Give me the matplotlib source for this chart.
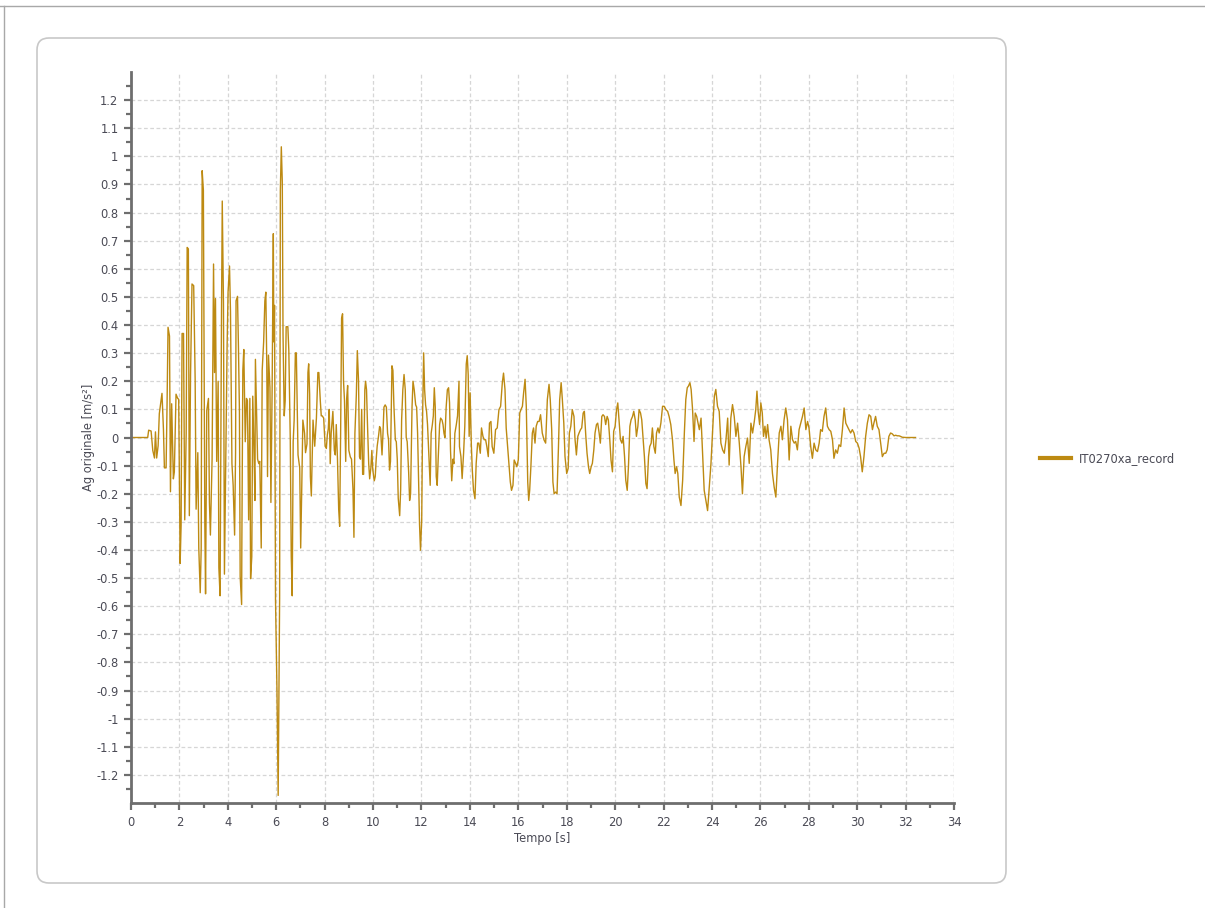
import matplotlib.pyplot as plt
import numpy as np
from matplotlib.patches import FancyBboxPatch
from matplotlib.lines import Line2D

# accelerogram (peaks / troughs)
tempo = [0, 0.69, 0.73, 0.83, 0.90, 0.97, 1.01, 1.06, 1.12, 1.17, 1.28, 1.34, 1.38, 1.45, 1.49, 1.53,
         1.59, 1.63, 1.68, 1.75, 1.79, 1.86, 1.93, 1.97, 2.03, 2.07, 2.11, 2.17, 2.22, 2.28, 2.32,
         2.37, 2.41, 2.46, 2.52, 2.59, 2.65, 2.69, 2.76, 2.80, 2.86, 2.90, 2.94, 2.99, 3.05, 3.08,
         3.13, 3.20, 3.24, 3.28, 3.35, 3.41, 3.45, 3.49, 3.54, 3.60, 3.63, 3.68, 3.74, 3.77, 3.82,
         3.86, 3.93, 3.97, 4.01, 4.07, 4.11, 4.17, 4.22, 4.28, 4.32, 4.34, 4.40, 4.44, 4.48, 4.51,
         4.57, 4.58, 4.62, 4.66, 4.72, 4.77, 4.81, 4.86, 4.91, 4.94, 4.99, 5.03, 5.08, 5.12, 5.14,
         5.19, 5.23, 5.28, 5.32, 5.38, 5.42, 5.48, 5.53, 5.57, 5.61, 5.64, 5.68, 5.74, 5.78, 5.83,
         5.88, 5.90, 5.93, 5.97, 6.03, 6.08, 6.14, 6.17, 6.21, 6.25, 6.28, 6.33, 6.37, 6.41, 6.48,
         6.52, 6.58, 6.62, 6.66, 6.70, 6.74, 6.79, 6.83, 6.90, 6.97, 7.01, 7.05, 7.10, 7.17, 7.21,
         7.27, 7.31, 7.34, 7.38, 7.41, 7.45, 7.52, 7.59, 7.66, 7.72,
         7.76, 7.82, 7.86, 7.90, 7.96, 8.02, 8.07, 8.11, 8.15, 8.19, 8.23, 8.27, 8.34, 8.40, 8.44,
         8.48, 8.53, 8.58, 8.62, 8.66, 8.70, 8.74, 8.78, 8.82, 8.87, 8.91, 8.95, 9.00, 9.06, 9.11,
         9.17, 9.21, 9.25, 9.31, 9.35, 9.40, 9.44, 9.48, 9.53, 9.57, 9.61, 9.66, 9.69, 9.73, 9.77,
         9.82, 9.86, 9.91, 9.95, 9.99, 10.05, 10.09, 10.13, 10.17, 10.23, 10.27, 10.31, 10.37, 10.41,
         10.45, 10.50, 10.55, 10.60, 10.64, 10.68, 10.72, 10.78, 10.82, 10.86, 10.92, 10.96, 11.00,
         11.04, 11.10, 11.14, 11.18, 11.23, 11.28, 11.33, 11.37, 11.41, 11.47, 11.51, 11.55, 11.61,
         11.65, 11.70, 11.76, 11.80, 11.84, 11.88, 11.92, 11.96, 12.01, 12.05, 12.09, 12.13, 12.17,
         12.21, 12.25, 12.31, 12.36, 12.40, 12.45, 12.49, 12.53, 12.57, 12.61, 12.65, 12.69, 12.75,
         12.79, 12.85, 12.89, 12.93, 12.97, 13.02, 13.07, 13.12, 13.16, 13.20, 13.25, 13.30, 13.34,
         13.38, 13.44, 13.49, 13.55,
         13.57, 13.63, 13.68, 13.74, 13.79, 13.85, 13.89, 13.93, 13.97, 14.01, 14.06, 14.10, 14.15,
         14.21, 14.26, 14.32, 14.37, 14.43, 14.48, 14.54, 14.59, 14.65, 14.70, 14.76, 14.81, 14.87,
         14.92, 14.99, 15.06, 15.13, 15.20, 15.27, 15.34, 15.39, 15.45, 15.50, 15.56, 15.61, 15.67,
         15.72, 15.78, 15.83, 15.89, 15.94, 16.00, 16.06, 16.11, 16.17, 16.22, 16.28, 16.33, 16.39,
         16.43, 16.47, 16.52, 16.58, 16.63, 16.69, 16.74, 16.80, 16.86, 16.92, 16.99, 17.06, 17.13,
         17.20, 17.27, 17.32, 17.38, 17.43, 17.48, 17.54, 17.60, 17.66, 17.71, 17.77, 17.82, 17.88,
         17.93, 18.00, 18.06, 18.11, 18.17, 18.23, 18.30, 18.34, 18.40, 18.46, 18.51, 18.57, 18.62,
         18.68, 18.73, 18.79, 18.84, 18.90, 18.95, 19.01, 19.06, 19.12, 19.17, 19.23, 19.28, 19.34,
         19.39, 19.45, 19.50, 19.56, 19.61, 19.67, 19.72, 19.78, 19.83, 19.89, 19.94, 20.00, 20.06,
         20.11, 20.17, 20.22, 20.28, 20.33, 20.39, 20.44, 20.50, 20.55, 20.61, 20.66, 20.72, 20.77,
         20.83, 20.88, 20.94, 20.99, 21.05, 21.10, 21.16, 21.21, 21.27, 21.32, 21.38, 21.43, 21.49,
         21.54, 21.60, 21.66, 21.71, 21.77, 21.82, 21.89, 21.96, 22.03, 22.10, 22.17, 22.23, 22.30,
         22.37, 22.43, 22.48, 22.54, 22.59, 22.65, 22.72, 22.79, 22.86, 22.92, 22.98, 23.03, 23.09,
         23.14, 23.20, 23.26, 23.31, 23.37,
         23.48, 23.55, 23.62, 23.68, 23.75, 23.82, 23.89, 23.96, 24.03, 24.10, 24.16, 24.23, 24.30,
         24.37, 24.44, 24.51, 24.58, 24.65, 24.71, 24.78, 24.85, 24.92, 24.99, 25.06, 25.13, 25.20,
         25.26, 25.33, 25.40, 25.47, 25.54, 25.61, 25.68, 25.75, 25.81, 25.86, 25.91, 25.97, 26.02,
         26.08, 26.13, 26.19, 26.24, 26.30, 26.36, 26.43, 26.50, 26.57, 26.64, 26.71, 26.78, 26.85,
         26.91, 26.98, 27.05, 27.12, 27.19, 27.26, 27.33, 27.40, 27.46, 27.53, 27.60, 27.67, 27.74,
         27.81, 27.88, 27.95, 28.01, 28.08, 28.15, 28.22, 28.29, 28.36, 28.43, 28.49, 28.56, 28.63,
         28.70, 28.77, 28.84, 28.91, 28.98, 29.04, 29.11, 29.18, 29.25, 29.32, 29.39, 29.46, 29.53,
         29.59, 29.66, 29.73, 29.80, 29.87, 29.94, 30.01, 30.08, 30.14, 30.21, 30.28, 30.35, 30.42,
         30.49, 30.56, 30.63, 30.69, 30.76, 30.83, 30.90, 30.97, 31.04, 31.11, 31.18, 31.24, 31.31,
         31.38, 31.45, 31.52, 31.59, 31.66, 31.73, 31.79, 31.86, 32.0, 32.41]

acc = [0, 0, 0.026, 0.023, -0.046, -0.073, 0.02, -0.073, -0.03, 0.085, 0.157, 0.03, -0.108, -0.108, 0.12, 0.392,
       0.361, -0.193, 0.12, -0.147, -0.123, 0.154, 0.139, 0.136, -0.448, -0.312, 0.37, 0.37, -0.293, 0.015, 0.676,
       0.671, -0.278, 0.224, 0.546, 0.54, 0.208, -0.255, -0.054, -0.393, -0.552, -0.393, 0.949, 0.88, -0.309, -0.556,
       0.096, 0.139, -0.231, -0.347, -0.077, 0.617, 0.231, 0.494, -0.085, 0.2, -0.463, -0.563, 0.455, 0.841, 0.478,
       -0.486, 0.046, 0.324, 0.517, 0.61, 0.448, -0.093, -0.17, -0.347, -0.054, 0.486, 0.502, 0.316, 0.093, -0.494,
       -0.594, -0.37, 0.239, 0.313, -0.015, 0.139, 0.131, -0.293, 0.139, -0.502, -0.424, 0.147, -0.039, -0.224, 0.278,
       0.085, -0.077, -0.093, -0.085, -0.393, 0.239, 0.34, 0.486, 0.517, 0.255, -0.139, 0.293, 0.177, -0.231, 0.17,
       0.725, 0.34, 0.47, -0.579, -0.895, -1.273, -0.571, 0.88, 1.034, 0.91, 0.37, 0.077, 0.131, 0.394, 0.394,
       0.309, -0.008, -0.424, -0.563, -0.015, 0.062, 0.301, 0.301, -0.062, -0.108, -0.393, -0.201, 0.062, 0.015, -0.054,
       -0.023, 0.231, 0.262, 0.154, -0.139, -0.208, 0.062, -0.031, 0.069, 0.231,
       0.231, 0.131, 0.077, 0.077, 0.069, -0.031, -0.039, 0.008, 0.031, 0.1, -0.093, 0.015, 0.093, -0.046, -0.062,
       0.046, -0.077, -0.255, -0.316, 0.015, 0.424, 0.44, 0.2, 0.131, -0.085, 0.139, 0.185, -0.046, -0.069, -0.077,
       -0.185, -0.355, 0.015, 0.154, 0.309, 0.2, -0.069, -0.077, 0.1, -0.131, -0.131, 0.17, 0.2, 0.17, 0.046,
       -0.093, -0.147, -0.108, -0.046, -0.116, -0.154, -0.139, -0.077, -0.031, 0.008, 0.039, 0.031, -0.062, 0.015,
       0.108, 0.116, 0.108, 0.015, -0.008, -0.116, -0.085, 0.255, 0.239, 0.116, -0.008, -0.015, -0.077,
       -0.216, -0.278, -0.185, 0.062, 0.17, 0.224, 0.17, 0, -0.015, -0.123, -0.224, -0.201, 0.108,
       0.2, 0.17, 0.116, 0.108, 0.015, -0.147, -0.309, -0.401, -0.293, 0.093, 0.301, 0.17, 0.116,
       0.093, 0.046, -0.069, -0.17, 0.015, 0.046, 0.077, 0.177, 0.108, -0.139, -0.17, -0.077, 0.046,
       0.069, 0.062, 0.046, 0.015, 0, 0.108, 0.17, 0.177, 0.123, -0.046, -0.154, -0.077, -0.093,
       0.015, 0.046, 0.077, 0.2,
       -0.032, -0.068, -0.146, -0.056, 0.04, 0.261, 0.291, 0.225, 0.004, 0.159, -0.026, -0.116, -0.188,
       -0.218, -0.092, -0.02, -0.02, -0.056, 0.034, 0.004, -0.008, -0.008, -0.032, -0.068, 0.051, 0.057,
       -0.032, -0.056, 0.028, 0.034, 0.099, 0.111, 0.195, 0.229, 0.171, 0.034, -0.032, -0.092, -0.158,
       -0.188, -0.17, -0.08, -0.092, -0.104, -0.08, 0.087, 0.099, 0.111, 0.159, 0.207, 0.111, -0.158,
       -0.224, -0.188, -0.104, 0.016, 0.034, -0.02, 0.04, 0.057, 0.057, 0.081, 0.016, -0.008, -0.02,
       0.135, 0.189, 0.135, 0.028, -0.158, -0.2, -0.194, -0.2, -0.032, 0.135, 0.195, 0.135, 0.051,
       -0.068, -0.128, -0.11, 0.016, 0.04, 0.099, 0.075, -0.002, -0.062, 0.004, 0.016, 0.028, 0.034,
       0.087, 0.093, 0.004, -0.056, -0.104, -0.128, -0.104, -0.092, -0.044, 0.016, 0.046, 0.051, 0.016,
       -0.02, 0.075, 0.081, 0.075, 0.046, 0.075, 0.063, -0.008, -0.08, -0.122, 0.022, 0.04, 0.099,
       0.123, 0.051, -0.008, -0.02, 0.004, -0.068, -0.152, -0.188, -0.104, 0.04, 0.063, 0.075, 0.093,
       0.063, 0.004, 0.04, 0.099, 0.087, 0.063, -0.008, -0.068, -0.164, -0.182, -0.068, -0.032, -0.02,
       0.034, -0.032, -0.056, 0.016, 0.034, 0.016, 0.051, 0.111, 0.111, 0.099, 0.093, 0.075, 0.046,
       -0.008, -0.08, -0.128, -0.104, -0.128, -0.212, -0.242, -0.152, 0.016, 0.135, 0.177, 0.183, 0.195,
       0.171, 0.099, -0.014, 0.087, 0.075,
       0.028, 0.069, -0.068, -0.188, -0.224, -0.26, -0.176, -0.092, 0.028, 0.147, 0.171, 0.111, 0.093,
       -0.02, -0.044, -0.056, -0.008, 0.069, -0.098, 0.069, 0.117, 0.075, 0.004, 0.051, -0.02, -0.104,
       -0.2, -0.068, -0.032, -0.002, -0.092, 0.051, 0.016, 0.057, 0.099, 0.165, 0.093, 0.046, 0.123,
       0.087, 0.004, 0.04, -0.002, 0.046, -0.008, -0.044, -0.128, -0.176, -0.212, -0.092, 0.016, 0.04,
       -0.008, 0.063, 0.105, 0.063, -0.08, 0.04, -0.008, -0.02, -0.014, -0.044, 0.028, 0.051, 0.075,
       0.105, 0.028, 0.057, 0.034, -0.032, -0.074, -0.02, -0.044, -0.05, -0.02, 0.028, 0.022, 0.075,
       0.105, 0.04, 0.028, 0.022, -0.008, -0.074, -0.044, -0.056, -0.026, -0.032, 0.028, 0.105, 0.051,
       0.04, 0.028, 0.016, 0.028, 0.016, -0.014, -0.02, -0.038, -0.068, -0.122, -0.068, 0.004, 0.051,
       0.081, 0.075, 0.028, 0.051, 0.075, 0.04, 0.028, -0.02, -0.068, -0.056, -0.056, -0.044, 0.004,
       0.016, 0.013, 0.006, 0.008, 0.006, 0.006, 0.004, 0.001, 0, 0]

serie = "IT0270xa_record"
x_label = "Tempo [s]"
y_label = "Ag originale [m/s²]"

y_ticks = [-1.2, -1.1, -1.0, -0.9, -0.8, -0.7, -0.6, -0.5, -0.4, -0.3, -0.2, -0.1, 0,
           0.1, 0.2, 0.3, 0.4, 0.5, 0.6, 0.7, 0.8, 0.9, 1.0, 1.1, 1.2]
y_tick_labels = ["-1.2", "-1.1", "-1", "-0.9", "-0.8", "-0.7", "-0.6", "-0.5", "-0.4", "-0.3", "-0.2", "-0.1", "0",
                 "0.1", "0.2", "0.3", "0.4", "0.5", "0.6", "0.7", "0.8", "0.9", "1", "1.1", "1.2"]

line_color = "#bd8a12"
axis_color = "#6e6e6e"
text_color = "#4a4a55"

fig = plt.figure(figsize=(12.05, 9.08), dpi=100)

# outer rounded panel, behind the axes
panel = FancyBboxPatch((0.37, 0.25), 9.69, 8.45, boxstyle="round,pad=0,rounding_size=0.12",
                       transform=fig.dpi_scale_trans, facecolor="white", edgecolor="#c8c8c8", lw=1.2,
                       zorder=-10)
fig.patches.append(panel)
panel.set_figure(fig)
fig.add_artist(Line2D([0, 12.05], [9.02, 9.02], transform=fig.dpi_scale_trans, color="#a8a8a8", lw=1))
fig.add_artist(Line2D([0.04, 0.04], [0, 9.02], transform=fig.dpi_scale_trans, color="#a8a8a8", lw=1))

ax = fig.add_axes([131 / 1205, 1 - 803 / 908, 823 / 1205, 731 / 908])
ax.set_zorder(5)
ax.set_facecolor("none")
ax.plot(tempo, acc, color=line_color, lw=1.0, label=serie)

ax.set_xlim(0, 34)
ax.set_ylim(-1.3, 1.3)
ax.set_xticks(np.arange(0, 35, 2))
ax.set_xticks(np.arange(1, 34, 2), minor=True)
ax.set_yticks(y_ticks)
ax.set_yticklabels(y_tick_labels)
ax.set_yticks(np.arange(-1.25, 1.3, 0.1), minor=True)

ax.grid(True, which="major", linestyle=(0, (3, 2)), color="#d6d6d6", lw=0.9)
ax.axvline(34, linestyle=(0, (3, 2)), color="#d6d6d6", lw=0.9)

for s in ["top", "right"]:
    ax.spines[s].set_visible(False)
for s in ["left", "bottom"]:
    ax.spines[s].set_color(axis_color)
    ax.spines[s].set_linewidth(2)

ax.tick_params(which="major", length=5, width=1.6, color=axis_color, labelsize=8.3,
               labelcolor=text_color, pad=4)
ax.tick_params(which="minor", length=3.5, width=1.6, color=axis_color)

ax.set_xlabel(x_label, fontsize=8.3, color=text_color)
ax.set_ylabel(y_label, fontsize=8.3, color=text_color)
ax.xaxis.set_label_coords(0.5, -0.040)
ax.yaxis.set_label_coords(-0.044, 0.5)

fig.legend(loc="center left", bbox_to_anchor=(1040 / 1205, 1 - 459 / 908), frameon=False,
           fontsize=8.3, handlelength=2.7, handletextpad=0.65, borderpad=0, borderaxespad=0,
           labelcolor=text_color)
for h in fig.legends[0].get_lines():
    h.set_linewidth(3)

fig.savefig("out.png", dpi=100)
